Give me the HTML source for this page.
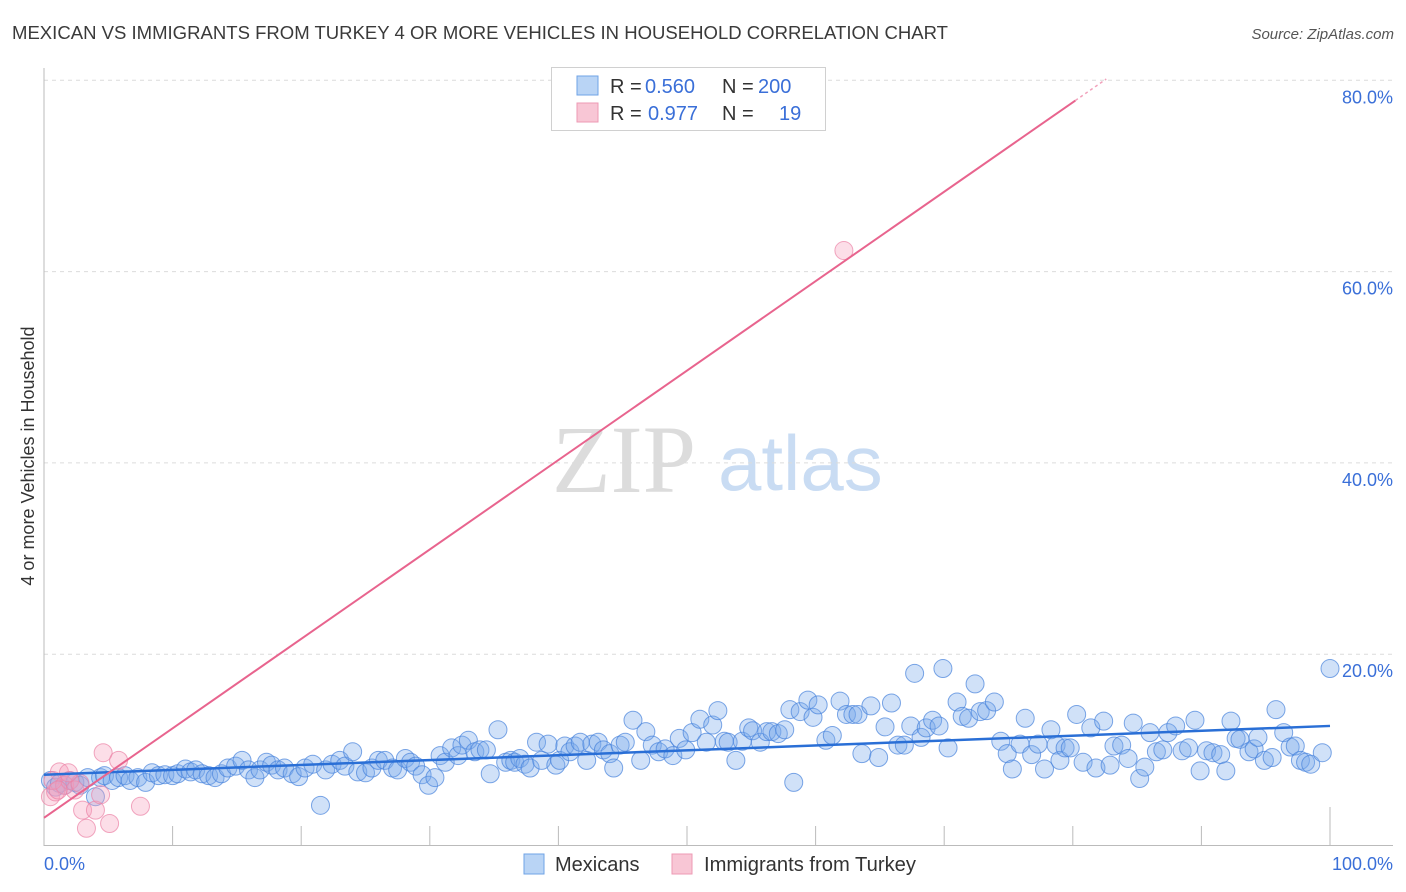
<!DOCTYPE html>
<html><head><meta charset="utf-8"><style>
body{margin:0;background:#fff;font-family:"Liberation Sans",sans-serif;}
svg{display:block}
</style></head><body>
<svg id="chart" width="1406" height="892">
<text x="12" y="39" font-size="18" fill="#3a3a3a" textLength="936" lengthAdjust="spacingAndGlyphs">MEXICAN VS IMMIGRANTS FROM TURKEY 4 OR MORE VEHICLES IN HOUSEHOLD CORRELATION CHART</text>
<text x="1394" y="39" font-size="15" fill="#555" font-style="italic" text-anchor="end">Source: ZipAtlas.com</text>
<text x="34" y="456" font-size="18" fill="#333" text-anchor="middle" transform="rotate(-90 34 456)">4 or more Vehicles in Household</text>
<g>
<text x="552" y="492" font-family="Liberation Serif,serif" font-size="96" fill="#dcdcdc">ZIP</text>
<text x="718" y="490" font-size="78" fill="#c9dcf3">atlas</text>
</g>
<g id="grid"></g>
<g id="axes"></g>
<g id="marks"></g>
<g>
<rect x="551.5" y="67.5" width="274" height="63" fill="#fff" stroke="#d0d0d0"/>
<rect x="577" y="76" width="21" height="19" fill="#b9d4f5" stroke="#6fa3e6"/>
<rect x="577" y="103" width="21" height="19" fill="#f8c6d5" stroke="#ee9ab4"/>
<text x="610" y="93" font-size="20" fill="#333">R = <tspan x="645" fill="#3a6fd8">0.560</tspan><tspan x="722">N = </tspan><tspan x="758" fill="#3a6fd8">200</tspan></text>
<text x="610" y="120" font-size="20" fill="#333">R = <tspan x="648" fill="#3a6fd8">0.977</tspan><tspan x="722">N = </tspan><tspan x="779" fill="#3a6fd8">19</tspan></text>
</g>
<g>
<rect x="524" y="854" width="20" height="20" fill="#b9d4f5" stroke="#6fa3e6"/>
<text x="555" y="871" font-size="20" fill="#333">Mexicans</text>
<rect x="672" y="854" width="20" height="20" fill="#f8c6d5" stroke="#ee9ab4"/>
<text x="704" y="871" font-size="20" fill="#333" textLength="212" lengthAdjust="spacingAndGlyphs">Immigrants from Turkey</text>
</g>
</svg>
<script>
const yTicks=[20,40,60,80];
const yTickLabels=["20.0%","40.0%","60.0%","80.0%"];
const xTicks=[10,20,30,40,50,60,70,80,90,100];
const xEndLabels=["0.0%","100.0%"];
const mexX=[0.5,0.9,1.2,1.6,2.0,2.4,2.8,3.4,4.0,4.4,4.7,5.3,5.8,6.3,6.7,7.3,7.9,8.4,8.9,9.4,10.0,10.4,11.0,11.4,11.8,12.3,12.8,13.3,13.8,14.3,14.9,15.4,15.9,16.4,16.8,17.3,17.7,18.2,18.7,19.3,19.8,20.3,20.9,21.5,21.9,22.4,23.0,23.4,24.0,24.4,25.0,25.5,26.0,26.5,27.1,27.5,28.1,28.5,28.9,29.4,29.9,30.4,30.8,31.2,31.7,32.2,32.5,33.0,33.5,33.9,34.4,34.7,35.3,35.9,36.3,36.6,37.0,37.4,37.8,38.3,38.7,39.2,39.8,40.1,40.5,40.9,41.3,41.7,42.2,42.6,43.1,43.5,44.0,44.3,44.8,45.2,45.8,46.4,46.8,47.3,47.8,48.3,48.9,49.4,49.9,50.4,51.0,51.5,52.0,52.4,52.9,53.2,53.8,54.3,54.8,55.1,55.7,56.2,56.6,57.1,57.6,58.0,58.3,58.8,59.4,59.8,60.2,60.8,61.3,61.9,62.4,62.9,63.3,63.6,64.3,64.9,65.4,65.9,66.4,66.9,67.4,67.7,68.2,68.6,69.1,69.6,69.9,70.3,71.0,71.4,71.9,72.4,72.8,73.3,73.9,74.4,74.9,75.3,75.9,76.3,76.8,77.3,77.8,78.3,78.7,79.0,79.4,79.8,80.3,80.8,81.4,81.8,82.4,82.9,83.2,83.8,84.3,84.7,85.2,85.6,86.0,86.5,87.0,87.4,88.0,88.5,89.0,89.5,89.9,90.4,90.9,91.5,91.9,92.3,92.7,93.0,93.7,94.1,94.4,94.9,95.5,95.8,96.4,96.9,97.3,97.7,98.1,98.5,99.4,100.0];
const mexY=[6.8,6.1,6.5,6.3,6.8,6.6,6.3,7.1,5.1,7.1,7.3,6.8,7.1,7.3,6.8,7.1,6.6,7.6,7.3,7.4,7.3,7.5,8.0,7.7,7.9,7.5,7.3,7.1,7.5,8.1,8.3,8.9,7.9,7.1,7.9,8.7,8.4,7.9,8.1,7.5,7.2,8.1,8.5,4.2,7.9,8.5,8.9,8.3,9.8,7.7,7.6,8.1,8.9,8.9,8.1,7.9,9.1,8.7,8.3,7.4,6.3,7.1,9.4,8.7,10.2,9.4,10.5,11.0,9.8,10.0,10.0,7.5,12.1,8.7,8.9,8.7,9.1,8.5,8.1,10.8,8.9,10.6,8.4,8.9,10.4,9.8,10.4,10.8,8.9,10.6,10.8,10.0,9.6,8.1,10.5,10.8,13.1,8.9,11.9,10.5,9.8,10.1,9.4,11.2,10.0,11.8,13.2,10.8,12.6,14.1,10.9,10.8,8.9,10.9,12.3,12.0,10.8,11.9,11.9,11.7,12.1,14.2,6.6,14.0,15.2,13.4,14.7,11.0,11.5,15.1,13.7,13.7,13.7,9.6,14.6,9.2,12.4,14.9,10.5,10.5,12.5,18.0,11.3,12.3,13.1,12.5,18.5,10.2,15.0,13.5,13.3,16.9,14.0,14.1,15.0,10.9,9.6,8.0,10.6,13.3,9.5,10.6,8.0,12.1,10.5,8.9,10.2,10.2,13.7,8.7,12.3,8.1,13.0,8.4,10.4,10.5,9.1,12.8,7.0,8.2,11.8,9.8,10.0,11.8,12.5,9.9,10.2,13.1,7.8,9.9,9.7,9.5,7.8,13.0,11.2,11.1,9.8,10.1,11.3,8.9,9.2,14.2,11.8,10.3,10.4,8.9,8.7,8.5,9.7,18.5];
const turX=[0.5,0.9,1.2,1.6,2.0,2.4,2.8,3.0,3.3,4.0,4.4,4.6,5.1,5.8,7.5,62.2,0.7,1.1,1.9];
const turY=[5.1,5.6,7.7,6.3,6.8,5.8,6.5,3.7,1.8,3.7,5.3,9.7,2.3,8.9,4.1,62.2,6.8,5.8,7.6];
const mexLine=[7.4,12.5];
const turLine=[2.9,0.935];

const X0=44,X1=1330,Y0=845.5,YPX=9.565;
const sx=v=>X0+(X1-X0)*v/100;
const sy=v=>Y0-v*YPX;
const NS="http://www.w3.org/2000/svg";
function mk(p,tag,at){const e=document.createElementNS(NS,tag);for(const k in at)e.setAttribute(k,at[k]);p.appendChild(e);return e;}
const grid=document.getElementById('grid'),axes=document.getElementById('axes'),marks=document.getElementById('marks');
yTicks.forEach((t,i)=>{
 const l=mk(grid,'line',{x1:44,x2:1393,y1:sy(t),y2:sy(t),stroke:'#dcdcdc','stroke-dasharray':'4 4'});
 
 
 const tx=mk(grid,'text',{x:1393,y:sy(t)+23,'font-size':18,fill:'#3a6fd8','text-anchor':'end'});
 tx.textContent=yTickLabels[i];
 
 
});
const ya=mk(axes,'line',{x1:44,x2:44,y1:68,y2:846,stroke:'#bbb'});


const xa=mk(axes,'line',{x1:44,x2:1393,y1:845.5,y2:845.5,stroke:'#bbb'});


xTicks.forEach(t=>{
 const l=mk(axes,'line',{x1:sx(t),x2:sx(t),y1:t==100?807:826,y2:845,stroke:'#bbb'});
 
 
});
const xl0=mk(axes,'text',{x:44,y:870,'font-size':18,fill:'#3a6fd8'});xl0.textContent=xEndLabels[0];


const xl1=mk(axes,'text',{x:1393,y:870,'font-size':18,fill:'#3a6fd8','text-anchor':'end'});xl1.textContent=xEndLabels[1];



mexX.forEach((x,i)=>{
 const c=mk(marks,'circle',{cx:sx(x),cy:sy(mexY[i]),r:9,fill:'rgba(120,170,235,0.35)',stroke:'rgba(70,130,220,0.7)','stroke-width':1});
 
 
});
turX.forEach((x,i)=>{
 const c=mk(marks,'circle',{cx:sx(x),cy:sy(turY[i]),r:9,fill:'rgba(245,160,190,0.35)',stroke:'rgba(235,130,165,0.7)','stroke-width':1});
 
 
});
const bl=mk(marks,'line',{x1:sx(0),y1:sy(mexLine[0]),x2:sx(100),y2:sy(mexLine[1]),stroke:'#2a6fd6','stroke-width':2.5});


const xe=80.2;
const pl=mk(marks,'line',{x1:sx(0),y1:sy(turLine[0]),x2:sx(xe),y2:sy(turLine[0]+turLine[1]*xe),stroke:'#e8648e','stroke-width':2});


const xd=82.6;
const pd=mk(marks,'line',{x1:sx(xe),y1:sy(turLine[0]+turLine[1]*xe),x2:sx(xd),y2:sy(turLine[0]+turLine[1]*xd),stroke:'#e8648e','stroke-width':1.5,'stroke-dasharray':'3 3',opacity:0.6});


</script>
</body></html>
